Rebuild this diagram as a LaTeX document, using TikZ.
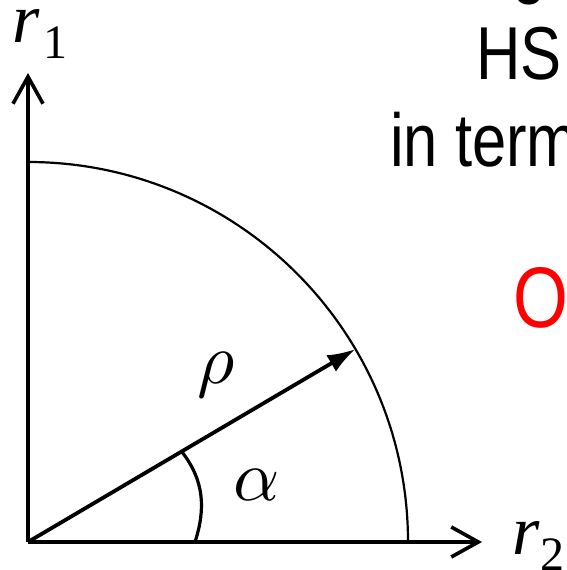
\documentclass[tikz,border=0pt]{standalone}
\usepackage{fontspec}
\usepackage{unicode-math}
\setmainfont{Liberation Serif}
\setmathfont{Latin Modern Math}
\newfontfamily\arialfont{Liberation Sans}
\usetikzlibrary{arrows.meta,calc}
\tikzset{
  axis/.style={line width=3.8pt, -{Straight Barb[length=27pt,width=30pt,line width=3.6pt]}},
  vec/.style={line width=3.8pt, -{Latex[length=28pt,width=19pt]}},
  thinarc/.style={line width=2.2pt},
  anglearc/.style={line width=3.2pt},
  lbl/.style={inner sep=0pt, anchor=base west},
  mathlbl/.style={lbl, font=\fontsize{70}{70}\selectfont\itshape},
  sublbl/.style={lbl, font=\fontsize{48}{48}\selectfont},
  sidetext/.style={lbl, font=\arialfont\fontsize{75}{75}\selectfont},
}
\newcommand{\narrow}[1]{\scalebox{0.82}[1]{#1}}
\begin{document}
\begin{tikzpicture}[x=1pt,y=1pt]
\useasboundingbox (0,0) rectangle (566,570);
\clip (0,0) rectangle (566,570);
\fill[white] (0,0) rectangle (566,570);
\coordinate (O) at (28,28);
\coordinate (ytip) at (28,497);
\coordinate (xtip) at (482,28);
\coordinate (cright) at (408,28);
\coordinate (rtip) at ($(O)+(30.5:380)$);
\coordinate (aA) at (195,28);
\coordinate (aB) at (182,118);
% quarter circle
\draw[thinarc] (cright) arc[start angle=0,end angle=90,radius=380];
% angle arc
\draw[anglearc] (aA) to[out=72,in=-52] (aB);
% axes
\draw[axis] (O) -- (ytip);
\draw[axis] (O) -- (xtip);
% vector
\draw[vec] (O) -- (rtip);
% labels
\node[mathlbl] (r1) at (12,527) {r};
\node[sublbl] (r1s) at (43,511) {1};
\node[mathlbl] (r2) at (512,15) {r};
\node[sublbl] (r2s) at (540,-1) {2};
\node[lbl, font=\fontsize{72}{72}\selectfont] (rho) at (197,186) {$\rho$};
\node[lbl, font=\fontsize{72}{72}\selectfont] (alpha) at (233,69) {$\alpha$};
% side texts (cropped)
\node[sidetext] (tg) at (512,580) {\narrow{g}};
\node[sidetext] (ths) at (476,490) {\narrow{HS}};
\node[sidetext] (tin) at (390,403) {\narrow{in term}};
\node[sidetext, text=red, font=\arialfont\fontsize{86}{86}\selectfont] (to) at (513,242) {\narrow{O}};
\end{tikzpicture}
\end{document}
